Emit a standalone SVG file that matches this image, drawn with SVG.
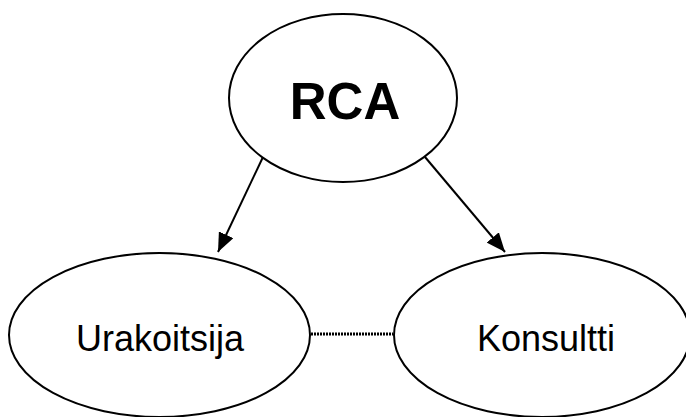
<svg xmlns="http://www.w3.org/2000/svg" width="686" height="417" viewBox="0 0 686 417">
  <style>
    .node { fill: #ffffff; stroke: #000000; stroke-width: 2; }
    .label { font-family: "Liberation Sans", Arial, sans-serif; fill: #000000; text-anchor: middle; }
    .edge { stroke: #000000; stroke-width: 2; fill: none; }
    .link { stroke: #000000; stroke-width: 3; stroke-dasharray: 2 1; fill: none; }
  </style>
  <defs>
    <marker id="arrow" markerUnits="userSpaceOnUse" markerWidth="20" markerHeight="16" viewBox="0 0 20 16" refX="19" refY="8" orient="auto">
      <path d="M0,0 L19,8 L0,16 Z" fill="#000000"/>
    </marker>
  </defs>

  <g id="connectors">
    <line class="edge" x1="263" y1="157" x2="218" y2="252" marker-end="url(#arrow)"/>
    <line class="edge" x1="425" y1="157" x2="505" y2="252" marker-end="url(#arrow)"/>
    <line class="link" x1="311" y1="334" x2="393" y2="334"/>
  </g>

  <g id="node-rca">
    <ellipse class="node" cx="343" cy="98" rx="114" ry="84"/>
    <text class="label" x="345" y="119" font-size="51" font-weight="bold">RCA</text>
  </g>

  <g id="node-urakoitsija">
    <ellipse class="node" cx="159.5" cy="335" rx="150.5" ry="82"/>
    <text class="label" x="160" y="351" font-size="36">Urakoitsija</text>
  </g>

  <g id="node-konsultti">
    <ellipse class="node" cx="542" cy="335" rx="148" ry="82"/>
    <text class="label" x="546" y="351" font-size="36">Konsultti</text>
  </g>
</svg>
